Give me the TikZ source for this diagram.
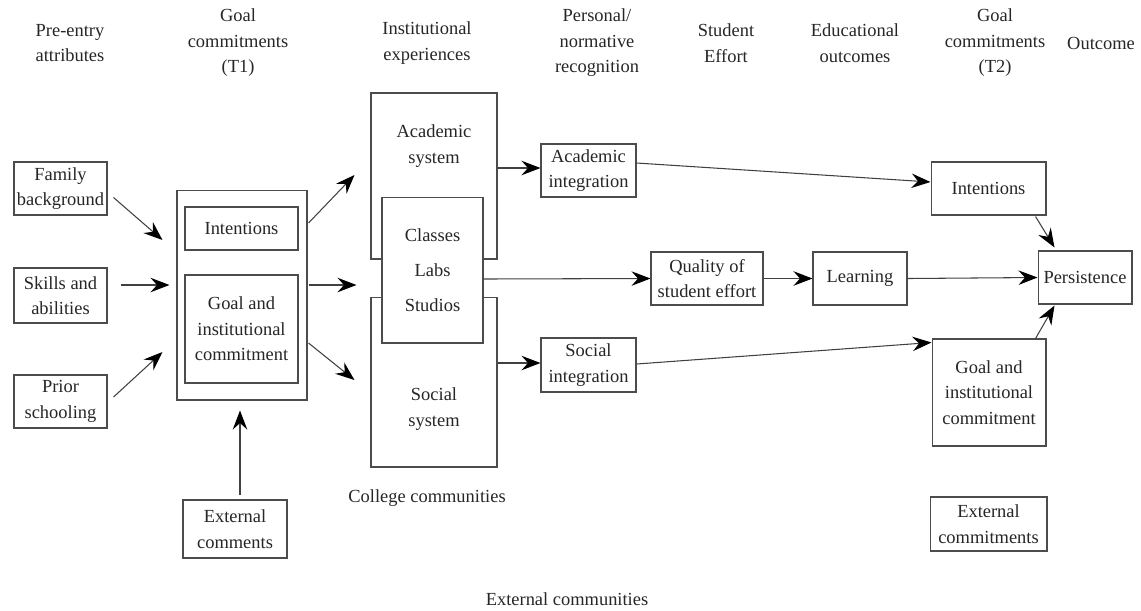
\documentclass[tikz,border=0pt]{standalone}
\usepackage{fontspec}
\setmainfont{Liberation Serif}
\usetikzlibrary{arrows.meta, positioning, calc}

\begin{document}
\begin{tikzpicture}[x=0.02cm, y=-0.02cm,
        font=\fontsize{10.5}{14.5}\selectfont, text=black!85,
        box/.style={draw=black!70, line width=0.6pt, rectangle, align=center, fill=white, inner sep=1pt},
        txt/.style={align=center, inner sep=0pt},
        arrow/.style={-{Stealth[length=3.8mm, width=2.9mm, inset=1.3mm, black]}, draw=black!75, line width=0.6pt}
    ]
        \useasboundingbox (0,0) rectangle (1141,610);

        % column headings
        \node[txt] (h1) at (70,43) {Pre-entry\\attributes};
        \node[txt] (h2) at (238,43) {Goal\\commitments\\(T1)};
        \node[txt] (h3) at (427,43) {Institutional\\experiences};
        \node[txt] (h4) at (597,43) {Personal/\\normative\\recognition};
        \node[txt] (h5) at (726,43) {Student\\Effort};
        \node[txt] (h6) at (855,43) {Educational\\outcomes};
        \node[txt] (h7) at (995,43) {Goal\\commitments\\(T2)};
        \node[txt] (h8) at (1101,43) {Outcome};

        % pre-entry attributes
        \node[box, minimum width=1.86cm, minimum height=1.06cm] (fam) at (60.5,188.5) {Family\\background};
        \node[box, minimum width=1.86cm, minimum height=1.1cm] (skills) at (60.5,295.5) {Skills and\\abilities};
        \node[box, minimum width=1.86cm, minimum height=1.06cm] (prior) at (60.5,401.5) {Prior\\schooling};

        % goal commitments T1
        \node[box, minimum width=2.6cm, minimum height=4.2cm] (t1) at (242,295) {};
        \node[box, minimum width=2.26cm, minimum height=0.86cm] (int1) at (241.5,228.5) {Intentions};
        \node[box, minimum width=2.26cm, minimum height=2.16cm] (goal1) at (241.5,329) {Goal and\\institutional\\commitment};
        \node[box, minimum width=2.08cm, minimum height=1.16cm] (extcom) at (235,529) {External\\comments};

        % institutional experiences
        \node[box, minimum width=2.52cm, minimum height=3.32cm] (acsys) at (434,176) {};
        \node[txt] (acsystxt) at (434,146) {Academic\\system};
        \node[box, minimum width=2.52cm, minimum height=3.4cm] (socsys) at (434,382) {};
        \node[txt] (socsystxt) at (434,409) {Social\\system};
        \node[box, minimum width=2.02cm, minimum height=2.92cm] (classes) at (432.5,270) {Classes\\[5.5pt]Labs\\[5.5pt]Studios};
        \node[txt] (college) at (427,498) {College communities};

        % integration
        \node[box, minimum width=1.9cm, minimum height=1.06cm] (acint) at (588.5,170.5) {Academic\\integration};
        \node[box, minimum width=1.9cm, minimum height=1.08cm] (socint) at (588.5,365) {Social\\integration};

        % effort, outcomes
        \node[box, minimum width=2.24cm, minimum height=1.06cm] (quality) at (707,278.5) {Quality of\\student effort};
        \node[box, minimum width=1.88cm, minimum height=1.06cm] (learn) at (860,278.5) {Learning};

        % goal commitments T2
        \node[box, minimum width=2.3cm, minimum height=1.06cm] (int2) at (988.5,188.5) {Intentions};
        \node[box, minimum width=2.28cm, minimum height=2.14cm] (goal2) at (989,392.5) {Goal and\\institutional\\commitment};
        \node[box, minimum width=2.34cm, minimum height=1.08cm] (extcomm) at (988.5,524) {External\\commitments};
        \node[box, minimum width=1.88cm, minimum height=1.06cm] (persist) at (1085,277.5) {Persistence};

        \node[txt] (extcommun) at (567,599) {External communities};

        % connectors
        \draw[arrow] ($(fam.east)+(6,9)$) -- ($(t1.west)+(-14,-55)$);
        \draw[arrow] ($(skills.east)+(13,-10.5)$) -- ($(t1.west)+(-7,-10)$);
        \draw[arrow] ($(prior.east)+(6,-4.5)$) -- ($(t1.west)+(-14,57)$);
        \draw[arrow] ($(extcom.north)+(5,-4)$) -- ($(t1.south)+(-2,10)$);

        \draw[arrow] ($(t1.east)+(1,-72)$) -- ($(acsys.west)+(-16,-1)$);
        \draw[arrow] ($(t1.east)+(1,-10)$) -- ($(classes.west)+(-25,15)$);
        \draw[arrow] ($(t1.east)+(1,48)$) -- ($(socsys.west)+(-16,-2)$);

        \draw[arrow] ($(acsys.east)+(0,-8)$) -- ($(acint.west)+(0,-2.5)$);
        \draw[arrow] ($(socsys.east)+(0,-19)$) -- ($(socint.west)+(0,-2)$);
        \draw[arrow] ($(classes.east)+(0,9)$) -- (quality.west);
        \draw[arrow] (quality.east) -- (learn.west);
        \draw[arrow] (learn.east) -- (persist.west);

        \draw[arrow] ($(acint.east)+(0,-7.5)$) -- ($(int2.west)+(0,-6.5)$);
        \draw[arrow] ($(socint.east)+(0,-1)$) -- ($(goal2.north west)+(0,4)$);
        \draw[arrow] ($(int2.south east)+(-11,1)$) -- ($(persist.north west)+(17,-3)$);
        \draw[arrow] ($(goal2.north east)+(-11,0)$) -- ($(persist.south west)+(17,1)$);
    \end{tikzpicture}
\end{document}
